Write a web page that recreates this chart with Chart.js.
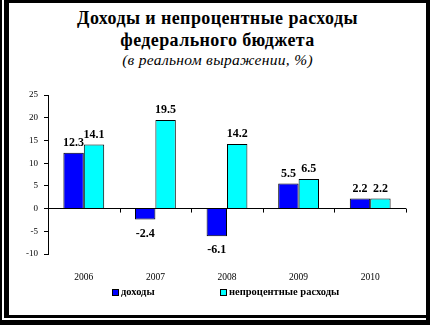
<!DOCTYPE html>
<html>
<head>
<meta charset="utf-8">
<script src="https://cdn.jsdelivr.net/npm/chart.js@4/dist/chart.umd.min.js"></script>
<style>
  html, body { margin: 0; padding: 0; }
  body { width: 430px; height: 325px; background: #000; position: relative; overflow: hidden; font-family: "Liberation Serif", "Times New Roman", serif; }
  .gap-left { position: absolute; left: 2px; top: 0; width: 2px; height: 320px; background: #fff; }
  .gap-bottom { position: absolute; left: 2px; top: 318px; width: 424px; height: 2px; background: #fff; }
  .panel { position: absolute; left: 9px; top: 3px; width: 417px; height: 312px; background: #fff; }
  .title { position: absolute; left: 9px; width: 417px; top: 7px; text-align: center; color: #000; }
  .title .main { font-weight: bold; font-size: 18px; line-height: 22px; letter-spacing: 0.4px; }
  .title .sub { font-style: italic; font-size: 15.5px; line-height: 18px; letter-spacing: 0.3px; }
  #chart { position: absolute; left: 0; top: 0; }
  .legend { position: absolute; top: 286px; left: 0; font-size: 10.5px; font-weight: bold; color: #000; }
  .legend .item { position: absolute; white-space: nowrap; }
  .legend .box { display: inline-block; width: 5px; height: 5px; border: 1px solid #000; margin-right: 2px; vertical-align: -1px; }
</style>
</head>
<body>
<div class="gap-left"></div>
<div class="gap-bottom"></div>
<div class="panel"></div>
<div class="title">
  <div class="main">Доходы и непроцентные расходы<br>федерального бюджета</div>
  <div class="sub">(в реальном выражении, %)</div>
</div>
<canvas id="chart" width="430" height="325"></canvas>
<div class="legend">
  <span class="item" style="left:112px"><span class="box" style="background:#0000ff"></span>доходы</span>
  <span class="item" style="left:220px"><span class="box" style="background:#00ffff"></span>непроцентные расходы</span>
</div>
<script>
// Годы и ряды
const years = ["2006", "2007", "2008", "2009", "2010"];
const revenue = [12.3, -2.4, -6.1, 5.5, 2.2];
const nonInterestSpending = [14.1, 19.5, 14.2, 6.5, 2.2];
const yTicks = [-10, -5, 0, 5, 10, 15, 20, 25];

// Подписи значений над/под столбцами
const valueLabels = {
  id: "valueLabels",
  afterDatasetsDraw(chart) {
    const ctx = chart.ctx;
    ctx.save();
    ctx.font = 'bold 12px "Liberation Serif"';
    ctx.fillStyle = "#000";
    ctx.textAlign = "center";
    ctx.textBaseline = "middle";
    chart.data.datasets.forEach((ds, i) => {
      chart.getDatasetMeta(i).data.forEach((bar, j) => {
        const v = ds.data[j];
        const y = v >= 0 ? bar.y - 10 : bar.y + 14;
        ctx.fillText(v.toFixed(1), bar.x, y);
      });
    });
    ctx.restore();
  },
};

// Засечки на нулевой линии между категориями
const zeroTicks = {
  id: "zeroTicks",
  afterDraw(chart) {
    const x = chart.scales.x;
    const y0 = chart.scales.y.getPixelForValue(0);
    const half = (x.getPixelForValue(1) - x.getPixelForValue(0)) / 2;
    const ctx = chart.ctx;
    ctx.save();
    ctx.strokeStyle = "#000";
    ctx.lineWidth = 1;
    ctx.beginPath();
    for (let i = 0; i <= years.length; i++) {
      const px = Math.round(x.getPixelForValue(i) - half) + 0.5;
      ctx.moveTo(px, y0);
      ctx.lineTo(px, y0 + 4);
    }
    ctx.stroke();
    ctx.restore();
  },
};

new Chart(document.getElementById("chart"), {
  type: "bar",
  data: {
    labels: years,
    datasets: [
      {
        label: "доходы",
        data: revenue,
        backgroundColor: "#0000ff",
        borderColor: "#000",
        borderWidth: 1,
        categoryPercentage: 0.57,
        barPercentage: 1,
      },
      {
        label: "непроцентные расходы",
        data: nonInterestSpending,
        backgroundColor: "#00ffff",
        borderColor: "#000",
        borderWidth: 1,
        categoryPercentage: 0.57,
        barPercentage: 1,
      },
    ],
  },
  options: {
    responsive: false,
    animation: false,
    layout: { padding: { top: 95, right: 24, bottom: 41, left: 0 } },
    plugins: {
      legend: { display: false },
      title: { display: false },
      tooltip: { enabled: false },
    },
    scales: {
      x: {
        offset: true,
        border: { display: false },
        grid: { display: false },
        ticks: {
          color: "#000",
          padding: 10,
          font: { family: "Liberation Serif", size: 9.5 },
        },
        afterFit: (s) => { s.height = 30; },
      },
      y: {
        min: -10,
        max: 25,
        afterBuildTicks: (s) => { s.ticks = yTicks.map((v) => ({ value: v })); },
        border: { display: true, color: "#000", width: 1 },
        grid: {
          color: (c) => (c.tick && c.tick.value === 0 ? "#000" : "rgba(0,0,0,0)"),
          tickColor: "#000",
          tickLength: 4,
          lineWidth: 1,
        },
        ticks: {
          color: "#000",
          padding: 6,
          font: { family: "Liberation Serif", size: 9 },
        },
        afterFit: (s) => { s.width = 48; },
      },
    },
  },
  plugins: [valueLabels, zeroTicks],
});
</script>
</body>
</html>
